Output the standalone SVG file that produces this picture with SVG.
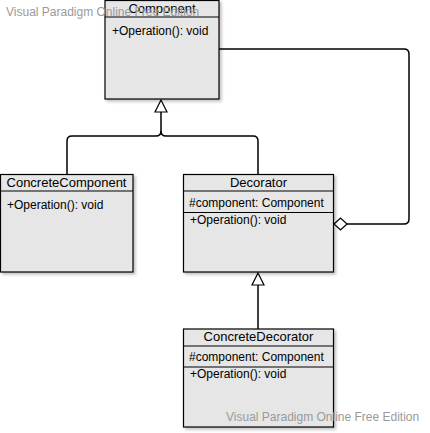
<svg xmlns="http://www.w3.org/2000/svg" width="430" height="433" viewBox="0 0 430 433">
<style>
.box{fill:#e6e6e6;stroke:#000;stroke-width:1.2}
.sep{stroke:#000;stroke-width:1}
.t{font-family:"Liberation Sans",Arial,sans-serif;font-size:12px;fill:#000}
.h{font-family:"Liberation Sans",Arial,sans-serif;font-size:13px;fill:#000}
.wm{font-family:"Liberation Sans",Arial,sans-serif;font-size:12px;fill:#9a9a9a}
.ln{fill:none;stroke:#000;stroke-width:1.5}
.hd{fill:#fff;stroke:#000;stroke-width:1.2}
</style>
<defs>
<filter id="sh" x="-10%" y="-10%" width="130%" height="130%">
<feDropShadow dx="2" dy="2" stdDeviation="1.5" flood-color="#000" flood-opacity="0.25"/>
</filter>
</defs>
<rect width="430" height="433" fill="#fff"/>
<g id="connectors">
<path class="ln" d="M161,112 V131 Q161,136 156,136 H72 Q67,136 67,141 V174"/>
<path class="ln" d="M161,131 Q161,136 166,136 H253 Q258,136 258,141 V174"/>
<polygon class="hd" points="161,100 155,112 167,112"/>
<path class="ln" d="M258,285 V329"/>
<polygon class="hd" points="258,273 252,285 264,285"/>
<path class="ln" d="M219,49 H404 Q409,49 409,54 V219 Q409,224 404,224 H347"/>
<polygon class="hd" points="334,224 340.5,218 347,224 340.5,230"/>
</g>
<g id="component">
<rect class="box" x="105" y="0.5" width="114" height="98.5" filter="url(#sh)"/>
<line class="sep" x1="105" y1="17" x2="219" y2="17"/>
<text class="h" x="162" y="13" text-anchor="middle">Component</text>
<text class="t" x="112" y="35">+Operation(): void</text>
</g>
<g id="concreteComponent">
<rect class="box" x="0.5" y="174.5" width="132.5" height="97.5" filter="url(#sh)"/>
<line class="sep" x1="0.5" y1="191" x2="133" y2="191"/>
<text class="h" x="66.5" y="187" text-anchor="middle">ConcreteComponent</text>
<text class="t" x="7" y="209">+Operation(): void</text>
</g>
<g id="decorator">
<rect class="box" x="183.5" y="174.5" width="150" height="97.5" filter="url(#sh)"/>
<line class="sep" x1="183.5" y1="191" x2="333.5" y2="191"/>
<line class="sep" x1="183.5" y1="212.5" x2="333.5" y2="212.5"/>
<text class="h" x="258.5" y="187" text-anchor="middle">Decorator</text>
<text class="t" x="189" y="207">#component: Component</text>
<text class="t" x="190" y="224">+Operation(): void</text>
</g>
<g id="concreteDecorator">
<rect class="box" x="183.5" y="329" width="150" height="98" filter="url(#sh)"/>
<line class="sep" x1="183.5" y1="346" x2="333.5" y2="346"/>
<line class="sep" x1="183.5" y1="367" x2="333.5" y2="367"/>
<text class="h" x="258.5" y="341" text-anchor="middle">ConcreteDecorator</text>
<text class="t" x="189" y="361">#component: Component</text>
<text class="t" x="190" y="378">+Operation(): void</text>
</g>
<text class="wm" x="6" y="16">Visual Paradigm Online Free Edition</text>
<text class="wm" x="226" y="421">Visual Paradigm Online Free Edition</text>
</svg>
